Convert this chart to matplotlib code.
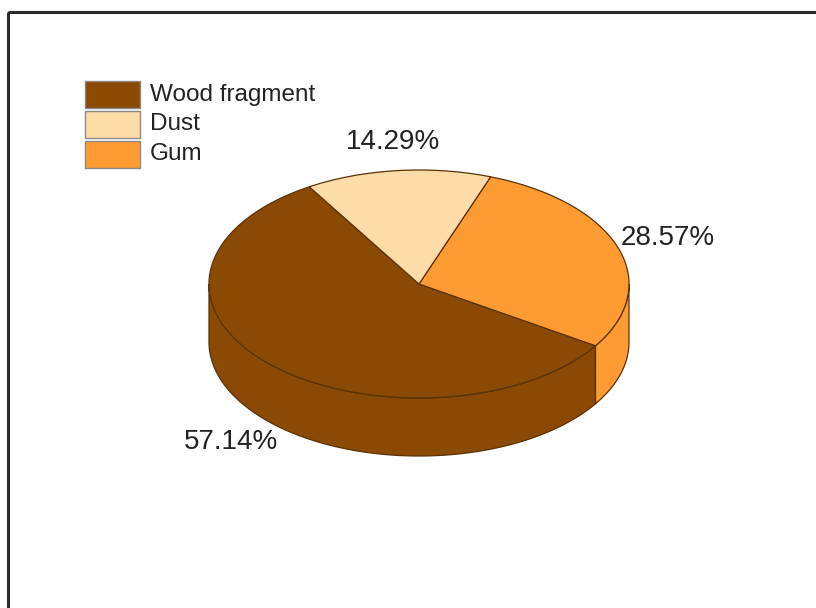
import matplotlib.pyplot as plt
import numpy as np
from matplotlib.patches import Polygon, Rectangle

plt.rcParams["font.family"] = ["Liberation Sans", "DejaVu Sans"]

labels = ["Wood fragment", "Dust", "Gum"]
percents = [57.14, 14.29, 28.57]
colors = ["#8b4a03", "#fddca8", "#fe9b33"]
# slices go counter-clockwise in this order
wedge_order = [0, 2, 1]
start_angle = 121.5

# pie geometry in pixels (y grows downward)
cx, cy = 419, 284
rx, ry = 210, 114
depth = 58
edge = "#5a3206"


def rim(t0, t1, dy=0.0, n=200):
    t = np.radians(np.linspace(t0, t1, n))
    return np.column_stack([cx + rx * np.cos(t), cy - ry * np.sin(t) + dy])


fig = plt.figure(figsize=(8.16, 6.08), dpi=100)
ax = fig.add_axes([0, 0, 1, 1])
ax.set_xlim(0, 816)
ax.set_ylim(608, 0)
ax.axis("off")

# frame, open to the right and bottom
ax.add_patch(Rectangle((8, 12), 900, 700, fill=False, lw=2.2, ec="#2b2b2b"))

# wedge angles
angles = {}
a0 = start_angle
total = sum(percents)
for i in wedge_order:
    a1 = a0 + 360 * percents[i] / total
    angles[i] = (a0, a1)
    a0 = a1

# side walls: only the front half (180..360 deg) is visible
for i in wedge_order:
    t0, t1 = angles[i]
    for lo, hi in [(180, 360), (540, 720)]:
        s, e = max(t0, lo), min(t1, hi)
        if e <= s:
            continue
        top = rim(s, e)
        bottom = rim(e, s, dy=depth)
        ax.add_patch(Polygon(np.vstack([top, bottom]), closed=True,
                             fc=colors[i], ec=edge, lw=0.9, zorder=2))

# top face
for i in wedge_order:
    t0, t1 = angles[i]
    pts = np.vstack([[cx, cy], rim(t0, t1)])
    ax.add_patch(Polygon(pts, closed=True, fc=colors[i], ec=edge,
                         lw=0.9, zorder=3))

# percentage labels
for i in wedge_order:
    t0, t1 = angles[i]
    m = np.radians((t0 + t1) / 2)
    lx = cx + 1.25 * rx * np.cos(m)
    ly = cy - 1.25 * ry * np.sin(m)
    if np.sin(m) < 0:
        ly += depth
    ax.text(lx, ly, f"{percents[i]:.2f}%", fontsize=20, color="#222222",
            ha="center", va="center", zorder=4)

# legend
for k, (lab, col) in enumerate(zip(labels, colors)):
    y = 81 + 30 * k
    ax.add_patch(Rectangle((85, y), 55, 27, fc=col, ec="#8a8a8a", lw=1))
    ax.text(150, y + 13.5, lab, fontsize=17.5, color="#222222",
            ha="left", va="center")

fig.savefig("out.png", dpi=100)
